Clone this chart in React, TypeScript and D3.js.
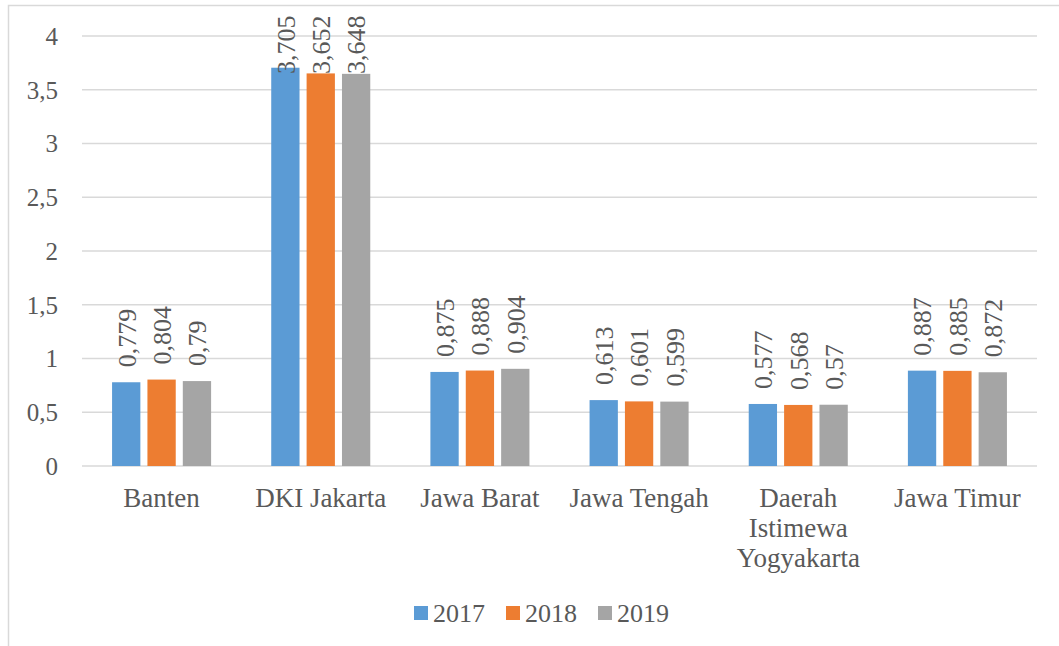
import React, { useRef, useEffect } from 'react';
import * as d3 from 'd3';

const provinces = ['Banten', 'DKI Jakarta', 'Jawa Barat', 'Jawa Tengah', 'Daerah Istimewa Yogyakarta', 'Jawa Timur'];
const years = ['2017', '2018', '2019'];
const values2017 = [0.779, 3.705, 0.875, 0.613, 0.577, 0.887];
const values2018 = [0.804, 3.652, 0.888, 0.601, 0.568, 0.885];
const values2019 = [0.79, 3.648, 0.904, 0.599, 0.57, 0.872];
const yTicks = [0, 0.5, 1, 1.5, 2, 2.5, 3, 3.5, 4];
const colors = ['#5B9BD5', '#ED7D31', '#A5A5A5'];

// category labels wrapped the way the original chart wraps them
const labelLines: Record<string, string[]> = {
  'Daerah Istimewa Yogyakarta': ['Daerah', 'Istimewa', 'Yogyakarta'],
};

const comma = (v: number) => String(v).replace('.', ',');

export default function App() {
  const svgRef = useRef<SVGSVGElement>(null);

  useEffect(() => {
    document.body.style.margin = '0';
    const width = 1059;
    const height = 646;
    const marginTop = 36;
    const marginLeft = 82;
    const marginRight = 22;
    const baseY = 466;
    const font = "'Liberation Serif', 'Times New Roman', serif";
    const textColor = '#595959';

    const svg = d3.select(svgRef.current)
      .attr('width', width)
      .attr('height', height)
      .attr('viewBox', [0, 0, width, height].join(' '));
    svg.selectAll('*').remove();

    // chart frame
    svg.append('rect')
      .attr('x', 8.5).attr('y', 5.5)
      .attr('width', width + 20).attr('height', height + 20)
      .attr('fill', 'white')
      .attr('stroke', '#D9D9D9')
      .attr('stroke-width', 1.5);

    const series = years.map((year, i) => ({ year, values: [values2017, values2018, values2019][i] }));
    const data = provinces.map((p, pi) => ({
      province: p,
      items: series.map(s => ({ year: s.year, value: s.values[pi] })),
    }));

    const x0 = d3.scaleBand<string>()
      .domain(provinces)
      .range([marginLeft, width - marginRight]);

    const x1 = d3.scaleBand<string>()
      .domain(years)
      .range([0, x0.bandwidth()])
      .paddingInner(0.2)
      .paddingOuter(0.85);

    const y = d3.scaleLinear()
      .domain([0, 4])
      .range([baseY, marginTop]);

    const color = d3.scaleOrdinal<string, string>().domain(years).range(colors);

    // gridlines
    svg.append('g')
      .selectAll('line')
      .data(yTicks)
      .join('line')
      .attr('x1', marginLeft)
      .attr('x2', width - marginRight)
      .attr('y1', d => y(d))
      .attr('y2', d => y(d))
      .attr('stroke', '#D9D9D9')
      .attr('stroke-width', 1.5);

    // y tick labels
    svg.append('g')
      .selectAll('text')
      .data(yTicks)
      .join('text')
      .attr('x', marginLeft - 24)
      .attr('y', d => y(d))
      .attr('dy', '0.35em')
      .attr('text-anchor', 'end')
      .attr('font-family', font)
      .attr('font-size', 25)
      .attr('fill', textColor)
      .text(d => comma(d));

    // bars
    const groups = svg.append('g')
      .selectAll('g')
      .data(data)
      .join('g')
      .attr('transform', d => `translate(${x0(d.province)},0)`);

    groups.selectAll('rect')
      .data(d => d.items)
      .join('rect')
      .attr('x', d => x1(d.year)!)
      .attr('y', d => y(d.value))
      .attr('width', x1.bandwidth())
      .attr('height', d => y(0) - y(d.value))
      .attr('fill', d => color(d.year));

    // value labels, rotated; kept inside the chart area when the bar is tall
    groups.selectAll('text')
      .data(d => d.items)
      .join('text')
      .attr('transform', d => {
        const cx = x1(d.year)! + x1.bandwidth() / 2;
        const len = comma(d.value).length * 12;
        const ty = Math.max(y(d.value) - 15, 14 + len);
        return `translate(${cx},${ty}) rotate(-90)`;
      })
      .attr('dy', '0.36em')
      .attr('text-anchor', 'start')
      .attr('font-family', font)
      .attr('font-size', 26)
      .attr('fill', textColor)
      .text(d => comma(d.value));

    // x category labels
    const cat = svg.append('g')
      .selectAll('text')
      .data(provinces)
      .join('text')
      .attr('x', d => x0(d)! + x0.bandwidth() / 2)
      .attr('y', 507)
      .attr('text-anchor', 'middle')
      .attr('font-family', font)
      .attr('font-size', 27)
      .attr('fill', textColor);

    cat.selectAll('tspan')
      .data(d => (labelLines[d] || [d]).map(line => ({ line, px: x0(d)! + x0.bandwidth() / 2 })))
      .join('tspan')
      .attr('x', d => d.px)
      .attr('dy', (d, i) => (i === 0 ? 0 : 30))
      .text(d => d.line);

    // legend
    const legendX = [414, 506, 598];
    const legend = svg.append('g')
      .selectAll('g')
      .data(years)
      .join('g')
      .attr('transform', (d, i) => `translate(${legendX[i]},613)`);

    legend.append('rect')
      .attr('x', 0).attr('y', -7)
      .attr('width', 14).attr('height', 14)
      .attr('fill', d => color(d));

    legend.append('text')
      .attr('x', 19)
      .attr('y', 0)
      .attr('dy', '0.35em')
      .attr('font-family', font)
      .attr('font-size', 26)
      .attr('fill', textColor)
      .text(d => d);
  }, []);

  return (
    <div>
      <svg ref={svgRef} style={{ display: 'block' }}></svg>
    </div>
  );
}
